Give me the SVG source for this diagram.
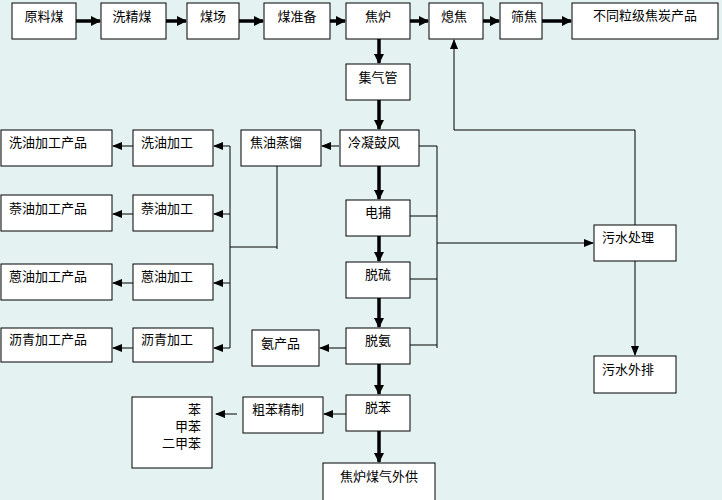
<svg xmlns="http://www.w3.org/2000/svg" width="722" height="500" viewBox="0 0 722 500">
<style>
rect.b{fill:#fff;stroke:#000;stroke-width:1}
text{font-family:"Noto Sans CJK SC","Noto Sans",sans-serif;font-size:13px;fill:#000}
.c{text-anchor:middle}
.r{text-anchor:end}
.t{stroke:#000;stroke-width:1;fill:none}
.k{stroke:#000;stroke-width:3.5;fill:none}
</style>
<defs>
<marker id="a" markerWidth="10" markerHeight="8" refX="9" refY="4" orient="auto" markerUnits="userSpaceOnUse"><path d="M0,0L10,4L0,8Z" fill="#000"/></marker>
<marker id="ak" markerWidth="10" markerHeight="10" refX="9" refY="5" orient="auto" markerUnits="userSpaceOnUse"><path d="M0,0L10,5L0,10Z" fill="#000"/></marker>
</defs>
<rect width="722" height="500" fill="#e4f2f2"/>
<g id="connectors">
<path class="k" marker-end="url(#ak)" d="M76,21H100"/>
<path class="k" marker-end="url(#ak)" d="M166,21H186"/>
<path class="k" marker-end="url(#ak)" d="M239,21H263"/>
<path class="k" marker-end="url(#ak)" d="M330,21H345"/>
<path class="k" marker-end="url(#ak)" d="M410,21H428"/>
<path class="k" marker-end="url(#ak)" d="M483,21H499"/>
<path class="k" marker-end="url(#ak)" d="M542,21H571"/>
<path class="k" marker-end="url(#ak)" d="M379,39V63"/>
<path class="k" marker-end="url(#ak)" d="M379,100V129"/>
<path class="k" marker-end="url(#ak)" d="M379,166V199"/>
<path class="k" marker-end="url(#ak)" d="M379,236V261"/>
<path class="k" marker-end="url(#ak)" d="M379,298V327"/>
<path class="k" marker-end="url(#ak)" d="M379,364V394"/>
<path class="k" marker-end="url(#ak)" d="M379,431V462"/>
<path class="t" marker-end="url(#a)" d="M339,146H322"/>
<path class="t" d="M230,146V348M277,165V249M230,247H277"/>
<path class="t" marker-end="url(#a)" d="M230,146H214"/>
<path class="t" marker-end="url(#a)" d="M230,214H214"/>
<path class="t" marker-end="url(#a)" d="M230,283H214"/>
<path class="t" marker-end="url(#a)" d="M230,348H214"/>
<path class="t" marker-end="url(#a)" d="M133,146H113"/>
<path class="t" marker-end="url(#a)" d="M133,214H113"/>
<path class="t" marker-end="url(#a)" d="M133,283H113"/>
<path class="t" marker-end="url(#a)" d="M133,348H113"/>
<path class="t" marker-end="url(#a)" d="M346,348H320"/>
<path class="t" marker-end="url(#a)" d="M346,414H324"/>
<path class="t" marker-end="url(#a)" d="M237,414H216"/>
<path class="t" d="M419,146H437V348M410,216H437M410,279H437M410,345H437"/>
<path class="t" marker-end="url(#a)" d="M437,243H593"/>
<path class="t" marker-end="url(#a)" d="M635,261V355"/>
<path class="t" marker-end="url(#a)" d="M635,225V130H454V40"/>
</g>
<g id="n1"><rect class="b" x="12" y="3" width="64" height="36"/><text class="c" x="44" y="21">原料煤</text></g>
<g id="n2"><rect class="b" x="101" y="3" width="65" height="36"/><text class="c" x="132" y="21">洗精煤</text></g>
<g id="n3"><rect class="b" x="187" y="3" width="52" height="36"/><text class="c" x="213" y="21">煤场</text></g>
<g id="n4"><rect class="b" x="264" y="3" width="66" height="36"/><text class="c" x="297" y="21">煤准备</text></g>
<g id="n5"><rect class="b" x="346" y="3" width="64" height="36"/><text class="c" x="378" y="21">焦炉</text></g>
<g id="n6"><rect class="b" x="429" y="3" width="54" height="36"/><text class="c" x="454" y="21">熄焦</text></g>
<g id="n7"><rect class="b" x="500" y="3" width="42" height="36"/><text class="c" x="524" y="21">筛焦</text></g>
<g id="n8"><rect class="b" x="572" y="3" width="146" height="36"/><text class="c" x="645" y="20">不同粒级焦炭产品</text></g>
<g id="n9"><rect class="b" x="346" y="64" width="64" height="36"/><text class="c" x="378" y="82">集气管</text></g>
<g id="n10"><rect class="b" x="340" y="130" width="79" height="36"/><text x="348" y="147">冷凝鼓风</text></g>
<g id="n11"><rect class="b" x="241" y="130" width="80" height="36"/><text x="250" y="147">焦油蒸馏</text></g>
<g id="n12"><rect class="b" x="133" y="130" width="80" height="36"/><text x="141" y="147">洗油加工</text></g>
<g id="n13"><rect class="b" x="1" y="130" width="111" height="36"/><text x="9" y="147">洗油加工产品</text></g>
<g id="n14"><rect class="b" x="133" y="195" width="80" height="36"/><text x="141" y="213">萘油加工</text></g>
<g id="n15"><rect class="b" x="1" y="195" width="111" height="36"/><text x="9" y="213">萘油加工产品</text></g>
<g id="n16"><rect class="b" x="133" y="264" width="80" height="36"/><text x="141" y="281">蒽油加工</text></g>
<g id="n17"><rect class="b" x="1" y="264" width="111" height="36"/><text x="9" y="281">蒽油加工产品</text></g>
<g id="n18"><rect class="b" x="133" y="328" width="80" height="34"/><text x="141" y="344">沥青加工</text></g>
<g id="n19"><rect class="b" x="1" y="328" width="111" height="34"/><text x="9" y="344">沥青加工产品</text></g>
<g id="n20"><rect class="b" x="346" y="200" width="64" height="36"/><text class="c" x="378" y="217">电捕</text></g>
<g id="n21"><rect class="b" x="346" y="262" width="64" height="36"/><text class="c" x="378" y="279">脱硫</text></g>
<g id="n22"><rect class="b" x="346" y="328" width="64" height="36"/><text class="c" x="378" y="345">脱氨</text></g>
<g id="n23"><rect class="b" x="252" y="330" width="67" height="36"/><text x="261" y="348">氨产品</text></g>
<g id="n24"><rect class="b" x="346" y="395" width="64" height="36"/><text class="c" x="378" y="412">脱苯</text></g>
<g id="n25"><rect class="b" x="243" y="397" width="80" height="36"/><text x="252" y="414">粗苯精制</text></g>
<g id="n26"><rect class="b" x="132" y="397" width="80" height="71"/><text class="r" x="201" y="414">苯</text><text class="r" x="201" y="431">甲苯</text><text class="r" x="201" y="448">二甲苯</text></g>
<g id="n27"><rect class="b" x="323" y="463" width="112" height="40"/><text class="c" x="379" y="481">焦炉煤气外供</text></g>
<g id="n28"><rect class="b" x="594" y="225" width="82" height="36"/><text x="602" y="242">污水处理</text></g>
<g id="n29"><rect class="b" x="594" y="356" width="82" height="37"/><text x="602" y="374">污水外排</text></g>
</svg>
